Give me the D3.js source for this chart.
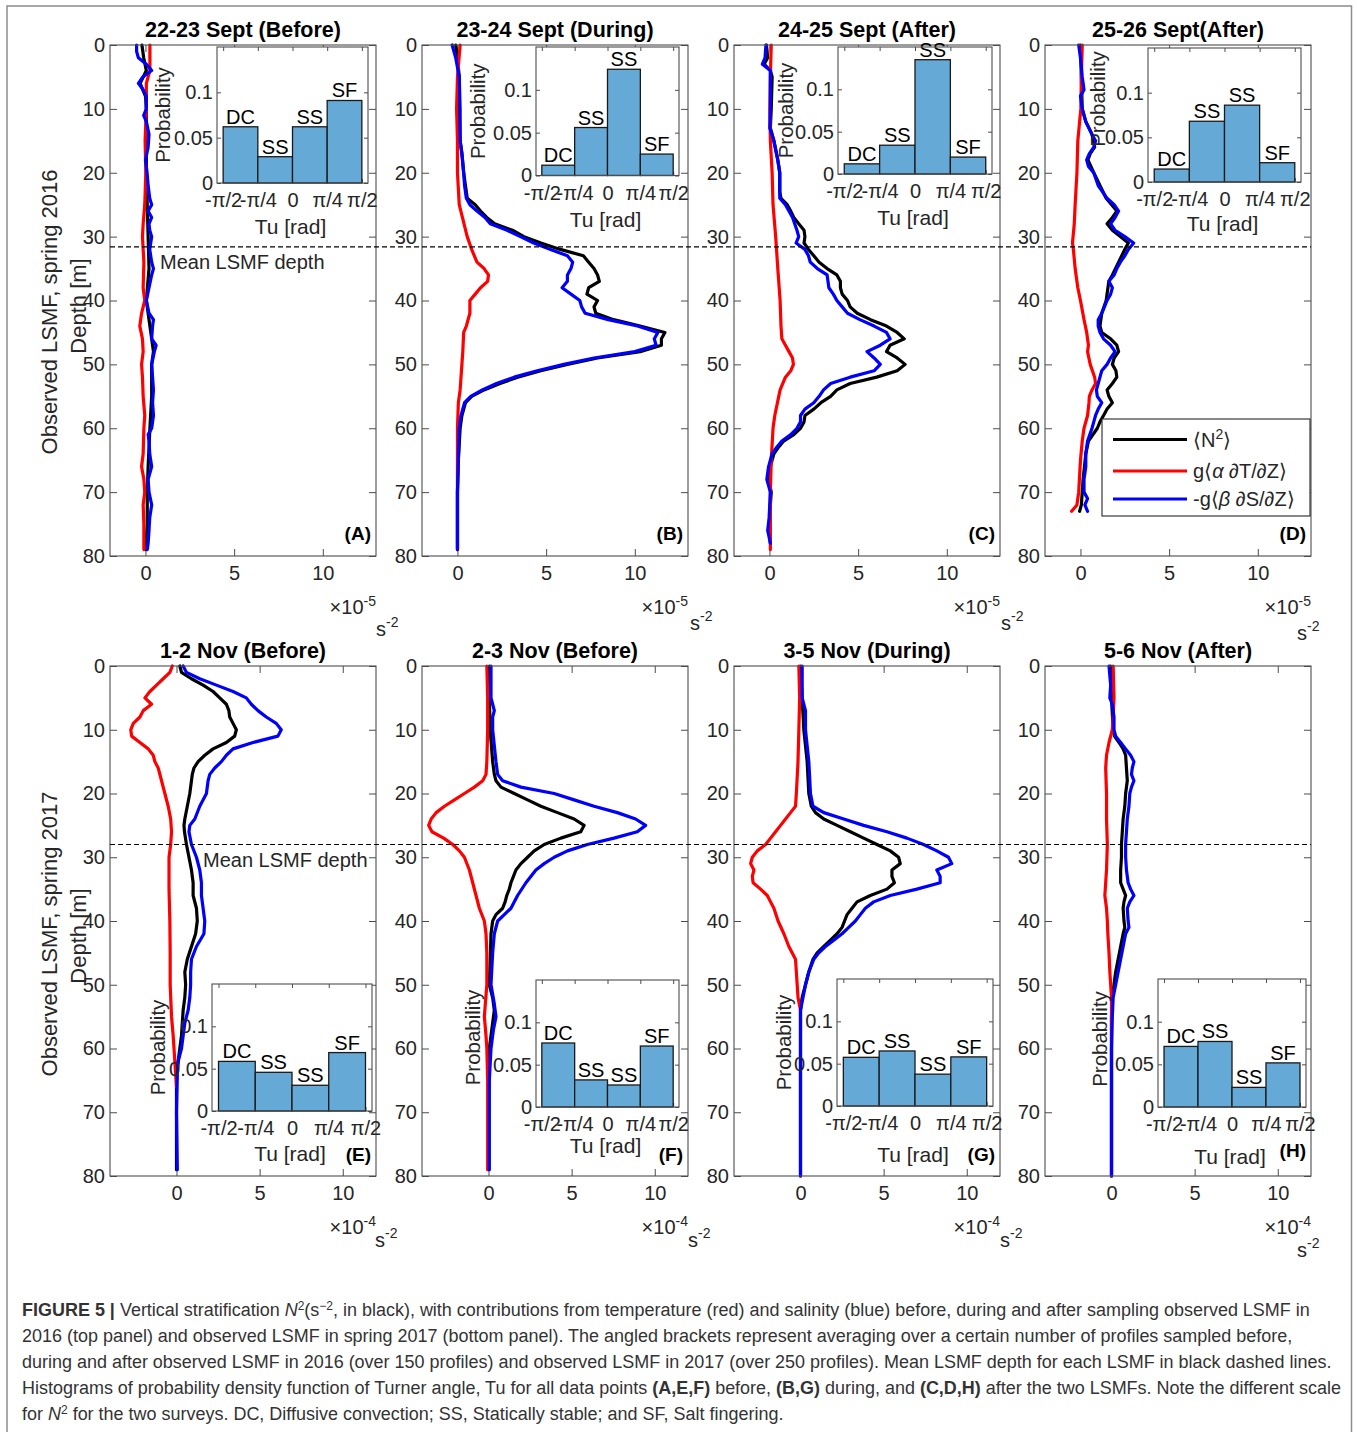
<!DOCTYPE html>
<html><head><meta charset="utf-8">
<script src="https://cdn.jsdelivr.net/npm/d3@7"></script>
<style>body{margin:0;background:#fff}svg text{font-family:"Liberation Sans",Arial,Helvetica,sans-serif}</style>
</head><body><svg id="c" width="1357" height="1432"></svg>
<script>
// ---------------- DATA ----------------
const panelTitles = ["22-23 Sept (Before)","23-24 Sept (During)","24-25 Sept (After)","25-26 Sept(After)",
                     "1-2 Nov (Before)","2-3 Nov (Before)","3-5 Nov (During)","5-6 Nov (After)"];
const panelLetters = ["(A)","(B)","(C)","(D)","(E)","(F)","(G)","(H)"];
const depthTicks = [0,10,20,30,40,50,60,70,80];
const n2Ticks = [0,5,10];
const probTicks = [0,0.05,0.1];
const tuEdges = [-Math.PI/2,-Math.PI/4,0,Math.PI/4,Math.PI/2];
const tuTickLabels = ["-\u03c0/2","-\u03c0/4","0","\u03c0/4","\u03c0/2"];
const tuClasses = ["DC","SS","SS","SF"];
const lsmfDepth = [31.6, 28];
const legendLabels = ["N2","T","S"];

// Histogram probabilities (DC, SS, SS, SF)
const histA = [0.062,0.029,0.062,0.091];
const histB = [0.012,0.056,0.124,0.025];
const histC = [0.012,0.034,0.135,0.020];
const histD = [0.0145,0.068,0.086,0.0216];
const histE = [0.0586,0.0457,0.0304,0.069];
const histF = [0.0756,0.032,0.026,0.072];
const histG = [0.0575,0.065,0.0376,0.058];
const histH = [0.071,0.0768,0.023,0.0517];

// Profiles: [depth m, value] ; top row in 1e-5 s^-2, bottom row in 1e-4 s^-2
const A_N2 = [[0,-0.2],[2,-0.1],[4,0.05],[6,-0.3],[8,0],[10,0.05],[15,0.05],[20,0.05],[25,0.1],[30,0.15],[35,0.2],[40,0.05],[44,0.25],[48,0.45],[50,0.35],[55,0.35],[60,0.25],[66,0.15],[70,0.1],[75,0.1],[79,0.02]];
const A_T = [[0,0.25],[4,0.25],[6,0.05],[10,0.05],[15,-0.02],[20,0.02],[25,-0.04],[28,-0.13],[30,-0.17],[34,-0.09],[38,-0.13],[40,-0.04],[42,-0.22],[44,-0.32],[46,-0.17],[48,-0.13],[50,-0.22],[52,-0.17],[55,-0.13],[58,-0.04],[60,-0.09],[64,-0.13],[66,-0.22],[68,-0.09],[70,-0.04],[72,-0.13],[75,-0.09],[79,-0.09]];
const A_S = [[0,-0.5],[1,-0.5],[2,-0.4],[3,0.05],[4,0.35],[5,-0.15],[6,-0.4],[7,-0.13],[8,0.05],[10,0.05],[11,-0.1],[12,0.05],[14,0.2],[16,0.15],[18,0],[19,0.05],[20,0.09],[22,0.15],[24,0.24],[25,0.35],[26,0.15],[27,0.35],[28,0.2],[29,0.24],[30,0.35],[32,0.24],[34,0.35],[35,0.45],[36,0.35],[38,0.2],[40,0.05],[42,0.2],[43,0.45],[44,0.4],[46,0.35],[47,0.6],[48,0.5],[50,0.35],[52,0.4],[54,0.45],[56,0.4],[58,0.45],[60,0.35],[61,0.15],[62,0.2],[64,0.24],[66,0.35],[68,0.15],[70,0.2],[72,0.35],[74,0.24],[76,0.2],[78,0.15],[79,0.1]];

const B_N2 = [[0,-0.1],[2,0],[5,0.1],[10,0.1],[15,0.15],[17,0.25],[20,0.35],[22,0.45],[24,0.55],[25,1.0],[26,1.3],[27,1.65],[28,2.1],[29,3.1],[30,3.75],[31,4.7],[32,5.8],[33,7.1],[34,7.4],[35,7.7],[36,7.9],[37,8.0],[38,7.4],[39,7.3],[40,7.9],[41,7.7],[42,7.8],[43,8.8],[44,10.3],[45,11.7],[46,11.5],[47,11.5],[48,10.3],[49,7.9],[50,6.2],[51,4.7],[52,3.4],[53,2.4],[54,1.5],[55,0.8],[56,0.45],[58,0.25],[60,0.15],[65,0.05],[70,0],[79,0]];
const B_T = [[0,0.15],[5,0],[10,-0.05],[15,0],[20,0],[25,0.1],[30,0.55],[32,0.8],[34,1.1],[35,1.5],[36,1.75],[37,1.7],[38,1.3],[39,1.0],[40,0.7],[42,0.7],[44,0.5],[45,0.35],[48,0.3],[50,0.25],[54,0.15],[56,0.05],[60,0],[70,0],[79,0]];
const B_S = [[0,-0.3],[2,-0.1],[5,0.1],[10,0.15],[15,0.15],[17,0.25],[20,0.35],[22,0.4],[24,0.5],[25,0.7],[26,1.1],[27,1.55],[28,1.85],[29,2.8],[30,3.55],[31,4.3],[32,5.25],[33,6.2],[34,6.5],[35,6.4],[36,6.2],[37,6.2],[38,5.9],[39,6.4],[40,6.9],[41,7.0],[42,7.2],[43,8.5],[44,10.15],[45,11.3],[46,11.1],[47,11.2],[48,10.0],[49,7.7],[50,6.0],[51,4.5],[52,3.2],[53,2.2],[54,1.4],[55,0.75],[56,0.4],[58,0.2],[60,0.1],[65,0.05],[70,0],[79,0]];

const C_N2 = [[0,-0.17],[2,-0.1],[3,-0.3],[4,0.05],[5,0.15],[10,0.1],[13,0.05],[15,0.25],[18,0.47],[20,0.58],[23,0.58],[24,0.65],[25,1.0],[26,1.2],[27,1.37],[28,1.65],[29,1.95],[30,2.0],[31,1.95],[32,2.2],[33,2.5],[34,2.8],[35,3.25],[36,3.8],[37,4.0],[38,4.0],[39,4.1],[40,4.4],[41,4.55],[42,4.95],[43,5.7],[44,6.6],[45,7.2],[46,7.6],[47,6.8],[48,6.6],[49,7.2],[50,7.65],[51,7.2],[52,6.05],[53,4.55],[54,3.8],[55,3.45],[56,2.9],[57,2.5],[58,2.0],[59,1.95],[60,1.75],[61,1.37],[62,0.8],[63,0.5],[64,0.25],[65,0.15],[66,0.05],[68,-0.05],[70,0.1],[72,0.05],[75,0.02],[78,0.05]];
const C_T = [[0,0.1],[5,0.05],[10,0.02],[15,0.05],[20,0.15],[25,0.2],[30,0.35],[35,0.47],[40,0.6],[44,0.65],[46,0.7],[47,0.9],[48,1.1],[49,1.3],[50,1.35],[51,1.2],[52,0.9],[54,0.6],[56,0.45],[58,0.3],[60,0.2],[65,0.1],[70,0.05],[79,0.05]];
const C_S = [[0,-0.2],[2,-0.25],[3,-0.4],[4,0.05],[10,0.05],[13,0.02],[15,0.25],[18,0.47],[20,0.58],[24,0.58],[25,0.9],[27,1.3],[29,1.55],[30,1.65],[31,1.5],[32,2.0],[33,2.2],[34,2.3],[35,2.7],[36,3.25],[37,3.3],[38,3.35],[39,3.6],[40,3.8],[41,4.1],[42,4.4],[43,5.1],[44,5.9],[45,6.6],[46,6.8],[47,6.25],[48,5.5],[49,5.9],[50,6.25],[51,5.9],[52,4.55],[53,3.45],[54,3.05],[55,2.8],[56,2.5],[57,2.0],[58,1.75],[59,1.75],[60,1.55],[61,1.2],[62,0.7],[63,0.4],[64,0.15],[66,-0.05],[68,-0.15],[70,0.05],[74,-0.02],[76,-0.1],[78,0.05]];

const D_N2 = [[0,0],[5,0.05],[10,0.1],[12,0.3],[14,0.65],[16,0.8],[17,0.55],[18,0.42],[20,0.75],[24,1.45],[26,2.05],[27,1.8],[28,1.5],[29,1.8],[30,2.25],[31,2.7],[32,2.5],[34,2.15],[36,1.8],[37,1.6],[40,1.45],[42,1.2],[44,1.1],[45,1.2],[46,1.7],[47,2.05],[48,2.15],[49,1.9],[50,1.8],[51,2.0],[52,2.05],[53,1.8],[54,1.5],[55,1.6],[56,1.8],[57,1.5],[58,1.3],[59,1.1],[60,0.95],[62,0.45],[64,0.3],[68,0.15],[70,0.1],[72,0.05],[73,-0.05]];
const D_T = [[0,0.1],[5,0.05],[10,0.02],[15,-0.15],[20,-0.2],[25,-0.3],[28,-0.35],[31,-0.45],[32,-0.4],[35,-0.3],[38,-0.15],[40,0],[43,0.2],[45,0.35],[47,0.45],[48,0.4],[50,0.55],[52,0.8],[53,0.85],[54,0.65],[55,0.5],[56,0.48],[58,0.4],[60,0.2],[62,0.1],[65,0],[70,-0.1],[72,-0.2],[73,-0.5]];
const D_S = [[0,-0.1],[2,0],[5,0.1],[7,0.2],[8,0],[10,0.1],[12,0.3],[14,0.65],[15,0.85],[16,0.75],[17,0.5],[18,0.35],[19,0.45],[20,0.75],[22,1.0],[24,1.5],[25,1.9],[26,2.15],[27,1.95],[28,1.7],[29,1.95],[30,2.5],[31,3.0],[32,2.7],[33,2.5],[34,2.25],[35,2.05],[36,1.9],[37,1.6],[38,1.8],[39,1.7],[40,1.5],[42,1.2],[43,1.0],[44,1.0],[45,1.1],[46,1.3],[47,1.7],[48,1.95],[49,1.7],[50,1.5],[51,1.2],[52,1.1],[53,1.0],[54,0.9],[55,0.95],[56,1.2],[57,1.0],[58,0.85],[59,0.75],[60,0.65],[62,0.4],[64,0.3],[66,0.3],[68,0.2],[70,0.2],[71,0.4],[72,0.25],[73,0.4]];

const E_N2 = [[0,0.2],[1,0.3],[2,0.9],[3,1.6],[4,2.2],[5,2.6],[6,3.0],[7,3.15],[8,3.2],[9,3.4],[10,3.6],[11,3.5],[12,3.0],[13,2.2],[14,1.7],[15,1.3],[16,1.05],[17,0.95],[18,0.9],[20,0.8],[22,0.65],[24,0.5],[25,0.45],[26,0.48],[28,0.6],[30,0.75],[32,0.9],[34,1.0],[36,1.0],[38,1.2],[40,1.25],[42,1.15],[44,0.9],[46,0.65],[48,0.5],[50,0.55],[52,0.5],[54,0.4],[56,0.35],[58,0.3],[60,0.2],[62,0.1],[64,0],[70,0],[79,0]];
const E_T = [[0,-0.25],[1,-0.4],[2,-0.8],[3,-1.2],[4,-1.6],[5,-1.9],[6,-1.5],[7,-2.0],[8,-2.2],[9,-2.6],[10,-2.75],[11,-2.7],[12,-2.2],[13,-1.7],[14,-1.4],[15,-1.3],[16,-1.1],[18,-0.9],[20,-0.7],[22,-0.5],[24,-0.35],[26,-0.3],[28,-0.35],[30,-0.45],[35,-0.45],[40,-0.4],[45,-0.38],[50,-0.38],[55,-0.3],[58,-0.2],[60,-0.15],[62,-0.1],[64,-0.05],[66,0]];
const E_S = [[0,0.4],[1,0.6],[2,1.4],[3,2.4],[4,3.4],[5,4.2],[6,4.5],[7,4.9],[8,5.4],[9,6.0],[10,6.3],[11,6.1],[12,4.6],[13,3.4],[14,3.0],[15,2.7],[16,2.3],[17,2.0],[18,1.9],[20,1.8],[22,1.4],[24,1.1],[25,0.8],[26,0.75],[28,0.9],[30,1.2],[32,1.4],[34,1.5],[36,1.5],[38,1.6],[40,1.7],[42,1.65],[44,1.2],[46,0.9],[48,0.85],[50,0.85],[52,0.8],[54,0.7],[56,0.5],[58,0.4],[60,0.3],[62,0.1],[64,0.05],[70,0],[79,0.05]];

const F_N2 = [[0,0.05],[5,0.05],[10,0.1],[15,0.25],[17,0.35],[18,0.45],[19,0.75],[20,1.55],[21,2.35],[22,3.15],[23,4.15],[24,5.15],[25,5.75],[26,5.55],[27,4.35],[28,3.35],[29,2.75],[30,2.35],[31,1.95],[32,1.65],[33,1.5],[34,1.35],[35,1.25],[36,1.1],[37,1.0],[38,0.85],[39,0.45],[40,0.25],[42,0.15],[45,0.12],[50,0.05],[52,0.25],[54,0.35],[56,0.25],[58,0.15],[60,0.05],[65,0.02],[70,0],[79,0]];
const F_T = [[0,-0.1],[5,-0.05],[10,-0.05],[15,-0.1],[17,-0.15],[18,-0.35],[19,-0.85],[20,-1.45],[21,-2.05],[22,-2.65],[23,-3.15],[24,-3.45],[25,-3.6],[26,-3.4],[27,-2.7],[28,-2.15],[29,-1.75],[30,-1.45],[32,-1.15],[34,-0.95],[36,-0.75],[38,-0.55],[40,-0.25],[42,-0.15],[45,-0.1],[50,-0.1],[55,-0.25],[58,-0.15],[60,-0.1],[65,-0.05],[70,-0.05],[79,-0.05]];
const F_S = [[0,0.15],[5,0.15],[6,0.25],[7,0.35],[8,0.25],[10,0.25],[15,0.45],[17,0.55],[18,0.85],[19,1.95],[20,3.95],[21,5.15],[22,6.35],[23,7.75],[24,8.85],[25,9.45],[26,8.95],[27,7.55],[28,5.95],[29,4.75],[30,3.95],[31,3.35],[32,2.85],[34,2.25],[36,1.75],[38,1.35],[39,0.95],[40,0.55],[42,0.35],[45,0.25],[50,0.15],[53,0.35],[55,0.45],[57,0.3],[60,0.15],[65,0.05],[70,0.05],[79,0.05]];

const G_N2 = [[0,0],[5,0.1],[10,0.2],[15,0.4],[20,0.5],[22,0.65],[23,0.9],[24,1.4],[25,2.2],[26,3.0],[27,3.8],[28,4.6],[29,5.4],[30,5.9],[31,6.0],[32,5.5],[33,5.5],[34,5.65],[35,5.2],[36,4.2],[37,3.4],[38,3.1],[39,2.8],[40,2.65],[41,2.5],[42,2.2],[43,1.8],[44,1.4],[45,1.0],[46,0.75],[48,0.5],[50,0.3],[52,0.1],[54,0],[60,0],[80,0]];
const G_T = [[0,-0.1],[5,-0.05],[10,-0.1],[15,-0.15],[20,-0.25],[22,-0.3],[23,-0.6],[24,-0.9],[25,-1.2],[26,-1.5],[27,-1.8],[28,-2.1],[29,-2.6],[30,-2.9],[31,-3.0],[32,-2.8],[33,-2.9],[34,-2.85],[35,-2.4],[36,-2.0],[37,-1.8],[38,-1.6],[40,-1.35],[42,-1.0],[44,-0.7],[46,-0.3],[48,-0.25],[50,-0.2],[52,-0.15],[54,0]];
const G_S = [[0,0.1],[5,0.1],[7,0.3],[10,0.3],[15,0.5],[20,0.6],[22,0.75],[23,1.4],[24,2.6],[25,3.8],[26,5.2],[27,6.4],[28,7.4],[29,8.2],[30,8.9],[31,9.1],[32,8.2],[33,8.4],[34,8.4],[35,7.0],[36,5.4],[37,4.4],[38,3.9],[39,3.6],[40,3.3],[41,2.9],[42,2.5],[43,2.0],[44,1.5],[45,1.1],[46,0.8],[48,0.5],[50,0.3],[52,0.15],[54,0],[80,0]];

const H_N2 = [[0,-0.05],[5,0],[10,0.1],[11,0.18],[12,0.45],[13,0.7],[14,0.85],[16,0.9],[18,0.95],[20,0.85],[22,0.8],[24,0.7],[26,0.65],[28,0.6],[30,0.6],[32,0.55],[34,0.55],[35,0.7],[36,0.85],[37,0.75],[38,0.7],[40,0.75],[41,0.8],[42,0.7],[44,0.55],[46,0.4],[48,0.25],[50,0.15],[52,0.05],[55,0],[80,0]];
const H_T = [[0,0.1],[5,0.15],[8,0.1],[10,0.05],[12,-0.15],[14,-0.3],[16,-0.35],[20,-0.3],[24,-0.3],[28,-0.25],[32,-0.3],[34,-0.35],[36,-0.4],[38,-0.3],[40,-0.25],[42,-0.22],[45,-0.15],[48,-0.1],[50,-0.05],[52,0],[55,0],[80,0]];
const H_S = [[0,-0.15],[3,-0.05],[5,-0.1],[6,0.05],[8,0.15],[10,0.15],[11,0.25],[12,0.55],[13,0.85],[14,1.15],[15,1.35],[16,1.25],[17,1.2],[18,1.35],[19,1.2],[20,1.1],[22,1.05],[24,0.95],[26,0.9],[28,0.85],[30,0.85],[32,0.9],[34,1.0],[35,1.15],[36,1.35],[37,1.1],[38,0.95],[40,1.0],[41,1.05],[42,0.85],[44,0.7],[46,0.55],[48,0.4],[50,0.25],[52,0.1],[55,0.05],[60,0],[80,0]];

// ---------------- LAYOUT ----------------
const svg = d3.select("#c");
const TXT = "#262626", AX = "#4d4d4d";
const seriesColor = {N2:"#000000", T:"#ff0000", S:"#0000ff"};
const rows = [
  {top:45, h:511, dom:[-2,13], exp:"-5", expY:614, letterY:540},
  {top:666, h:510, dom:[-4,12], exp:"-4", expY:1234, letterY:1161}
];
const lefts = [110,422,734,1045], PW = 266;
const panels = [
  {r:0,c:0,N2:A_N2,T:A_T,S:A_S,hist:histA,inset:[217,47,151,136],pOff:55,pDy:0,tuOff:51,sX:376,sY:636},
  {r:0,c:1,N2:B_N2,T:B_T,S:B_S,hist:histB,inset:[536,47,143,128.5],pOff:59,pDy:0,tuOff:51,sX:690,sY:630},
  {r:0,c:2,N2:C_N2,T:C_T,S:C_S,hist:histC,inset:[838,47,154,127],pOff:53,pDy:0,tuOff:51,sX:1001,sY:630},
  {r:0,c:3,N2:D_N2,T:D_T,S:D_S,hist:histD,inset:[1148,48,153,134],pOff:51,pDy:-16,tuOff:49,sX:1297,sY:640},
  {r:1,c:0,N2:E_N2,T:E_T,S:E_S,hist:histE,inset:[212,984,160,127],pOff:55,pDy:0,tuOff:50,sX:375,sY:1247},
  {r:1,c:1,N2:F_N2,T:F_T,S:F_S,hist:histF,inset:[536,980,143,127],pOff:64,pDy:-6,tuOff:46,sX:688,sY:1247},
  {r:1,c:2,N2:G_N2,T:G_T,S:G_S,hist:histG,inset:[837,979,156,127],pOff:54,pDy:0,tuOff:56,sX:1000,sY:1247},
  {r:1,c:3,N2:H_N2,T:H_T,S:H_S,hist:histH,inset:[1158,979,148,128],pOff:59,pDy:-4,tuOff:57,sX:1297,sY:1257}
];

// outer frame
svg.append("rect").attr("x",7).attr("y",6).attr("width",1344.5).attr("height",1450)
  .attr("fill","none").attr("stroke","#8c8c8c").attr("stroke-width",1.5);

function styleAxis(g, fs){
  g.select(".domain").remove();
  g.selectAll(".tick line").attr("stroke",AX).attr("stroke-width",1);
  g.selectAll(".tick text").attr("fill",TXT).attr("font-size",fs)
    .attr("font-family",'"Liberation Sans",Arial,sans-serif');
  g.attr("font-family",null).attr("font-size",null);
  return g;
}
function rich(sel, parts){
  let shift = 0;
  parts.forEach(p=>{
    const t = p[0], o = p[1] || {};
    const ts = sel.append("tspan").text(t);
    if(o.b) ts.attr("font-weight","bold");
    if(o.i) ts.attr("font-style","italic");
    if(o.fs) ts.attr("font-size",o.fs);
    const target = o.sup ? -o.sup : 0;
    if(target !== shift) ts.attr("dy", target - shift);
    shift = target;
  });
  return sel;
}

const line = (x,y)=>d3.line().x(d=>x(d[1])).y(d=>y(d[0])).curve(d3.curveLinear);

panels.forEach((p,i)=>{
  const row = rows[p.r], L = lefts[p.c], R = L + PW, T = row.top, B = row.top + row.h;
  const x = d3.scaleLinear().domain(row.dom).range([L,R]);
  const y = d3.scaleLinear().domain([0,80]).range([T,B]);
  const g = svg.append("g");

  styleAxis(g.append("g").attr("transform",`translate(${L},0)`)
    .call(d3.axisLeft(y).tickValues(depthTicks).tickSize(-7).tickPadding(5)), 20);
  styleAxis(g.append("g").attr("transform",`translate(${R},0)`)
    .call(d3.axisRight(y).tickValues(depthTicks).tickSize(-7).tickFormat("")), 20);
  styleAxis(g.append("g").attr("transform",`translate(0,${B})`)
    .call(d3.axisBottom(x).tickValues(n2Ticks).tickSize(-7).tickPadding(10)), 20);
  styleAxis(g.append("g").attr("transform",`translate(0,${T})`)
    .call(d3.axisTop(x).tickValues(n2Ticks).tickSize(-7).tickFormat("")), 20);

  ["N2","T","S"].forEach(k=>{
    g.append("path").datum(p[k]).attr("d", line(x,y))
      .attr("fill","none").attr("stroke",seriesColor[k]).attr("stroke-width",3.2)
      .attr("stroke-linejoin","round").attr("stroke-linecap","round");
  });

  g.append("rect").attr("x",L).attr("y",T).attr("width",PW).attr("height",row.h)
    .attr("fill","none").attr("stroke",AX).attr("stroke-width",1.1);

  g.append("text").attr("x",(L+R)/2).attr("y",T-8).attr("text-anchor","middle")
    .attr("font-size",21.5).attr("font-weight","bold").attr("fill","#000").text(panelTitles[i]);

  rich(g.append("text").attr("x",R).attr("y",row.expY).attr("text-anchor","end")
    .attr("font-size",20).attr("fill",TXT), [["\u00d710"],[row.exp,{sup:8,fs:14}]]);
  rich(g.append("text").attr("x",p.sX).attr("y",p.sY).attr("font-size",20).attr("fill",TXT),
    [["s"],["-2",{sup:9,fs:14}]]);
});

// dashed mean LSMF depth lines
rows.forEach((row,ri)=>{
  const y = d3.scaleLinear().domain([0,80]).range([row.top,row.top+row.h]);
  svg.append("line").attr("x1",lefts[0]).attr("x2",lefts[3]+PW)
    .attr("y1",y(lsmfDepth[ri])).attr("y2",y(lsmfDepth[ri]))
    .attr("stroke","#000").attr("stroke-width",1.2).attr("stroke-dasharray","5,3");
  svg.append("text").attr("x", ri===0?160:203).attr("y", y(lsmfDepth[ri])+22)
    .attr("font-size",20).attr("fill",TXT).text("Mean LSMF depth");
});

// insets
panels.forEach((p,i)=>{
  const [iL,iT,iW,iH] = p.inset;
  const g = svg.append("g");
  const x = d3.scaleLinear().domain([-1.71,1.71]).range([iL,iL+iW]);
  const y = d3.scaleLinear().domain([0,0.15]).range([iT+iH,iT]);
  g.append("rect").attr("x",iL).attr("y",iT).attr("width",iW).attr("height",iH).attr("fill","#fff");
  styleAxis(g.append("g").attr("transform",`translate(${iL},0)`)
    .call(d3.axisLeft(y).tickValues(probTicks).tickSize(-4).tickPadding(4).tickFormat(d=>d===0?"0":String(d))), 20);
  styleAxis(g.append("g").attr("transform",`translate(${iL+iW},0)`)
    .call(d3.axisRight(y).tickValues(probTicks).tickSize(-4).tickFormat("")), 20);
  styleAxis(g.append("g").attr("transform",`translate(0,${iT+iH})`)
    .call(d3.axisBottom(x).tickValues(tuEdges).tickSize(-4).tickPadding(10).tickFormat((d,k)=>tuTickLabels[k])), 20);
  styleAxis(g.append("g").attr("transform",`translate(0,${iT})`)
    .call(d3.axisTop(x).tickValues(tuEdges).tickSize(-4).tickFormat("")), 20);

  g.selectAll("rect.bar").data(p.hist).join("rect").attr("class","bar")
    .attr("x",(d,k)=>x(tuEdges[k])).attr("width",(d,k)=>x(tuEdges[k+1])-x(tuEdges[k]))
    .attr("y",d=>y(d)).attr("height",d=>y(0)-y(d))
    .attr("fill","#65a9d7").attr("stroke","#1a1a1a").attr("stroke-width",1.3);
  g.selectAll("text.cls").data(p.hist).join("text").attr("class","cls")
    .attr("x",(d,k)=>(x(tuEdges[k])+x(tuEdges[k+1]))/2).attr("y",d=>y(d)-3)
    .attr("text-anchor","middle").attr("font-size",20).attr("fill","#000")
    .text((d,k)=>tuClasses[k]);
  g.append("rect").attr("x",iL).attr("y",iT).attr("width",iW).attr("height",iH)
    .attr("fill","none").attr("stroke",AX).attr("stroke-width",1.1);

  g.append("text").attr("transform",`translate(${iL-p.pOff},${iT+iH/2+p.pDy}) rotate(-90)`)
    .attr("text-anchor","middle").attr("dominant-baseline","central")
    .attr("font-size",20.5).attr("fill",TXT).text("Probability");
  g.append("text").attr("x",iL+iW/2-2).attr("y",iT+iH+p.tuOff).attr("text-anchor","middle")
    .attr("font-size",21).attr("fill",TXT).text("Tu [rad]");
});

// panel letters
panels.forEach((p,i)=>{
  const row = rows[p.r], R = lefts[p.c]+PW;
  svg.append("text").attr("x",R-5).attr("y",row.letterY - (i===7?4:0)).attr("text-anchor","end")
    .attr("font-size",19).attr("font-weight","bold").attr("fill","#000").text(panelLetters[i]);
});

// legend in panel D
{
  const lx = 1102, ly = 419, lw = 208, lh = 97;
  const lg = svg.append("g");
  lg.append("rect").attr("x",lx).attr("y",ly).attr("width",lw).attr("height",lh)
    .attr("fill","#fff").attr("stroke","#262626").attr("stroke-width",1.1);
  const rowsY = [439.5,471,499];
  const labels = [
    [["\u27e8N"],["2",{sup:8,fs:14}],["\u27e9"]],
    [["g\u27e8"],["\u03b1",{i:true}],[" \u2202T/\u2202Z\u27e9"]],
    [["-g\u27e8"],["\u03b2",{i:true}],[" \u2202S/\u2202Z\u27e9"]]
  ];
  legendLabels.forEach((k,j)=>{
    lg.append("line").attr("x1",1113).attr("x2",1187).attr("y1",rowsY[j]).attr("y2",rowsY[j])
      .attr("stroke",seriesColor[k]).attr("stroke-width",3.2);
    rich(lg.append("text").attr("x",1193).attr("y",rowsY[j]+7).attr("font-size",20).attr("fill",TXT), labels[j]);
  });
}

// y-axis labels
[[312,"Observed LSMF, spring 2016",306],[934,"Observed LSMF, spring 2017",936]].forEach(([cy,t,dy])=>{
  svg.append("text").attr("transform",`translate(49,${cy}) rotate(-90)`).attr("text-anchor","middle")
    .attr("dominant-baseline","central").attr("font-size",22).attr("fill",TXT).text(t);
  svg.append("text").attr("transform",`translate(78,${dy}) rotate(-90)`).attr("text-anchor","middle")
    .attr("dominant-baseline","central").attr("font-size",22).attr("fill",TXT).text("Depth [m]");
});

// caption
const captionLines = [
  [["FIGURE 5 | ",{b:true}],["Vertical stratification "],["N",{i:true}],["2",{sup:6,fs:12}],["(s"],["\u22122",{sup:6,fs:12}],[", in black), with contributions from temperature (red) and salinity (blue) before, during and after sampling observed LSMF in"]],
  [["2016 (top panel) and observed LSMF in spring 2017 (bottom panel). The angled brackets represent averaging over a certain number of profiles sampled before,"]],
  [["during and after observed LSMF in 2016 (over 150 profiles) and observed LSMF in 2017 (over 250 profiles). Mean LSMF depth for each LSMF in black dashed lines."]],
  [["Histograms of probability density function of Turner angle, Tu for all data points "],["(A,E,F)",{b:true}],[" before, "],["(B,G)",{b:true}],[" during, and "],["(C,D,H)",{b:true}],[" after the two LSMFs. Note the different scale"]],
  [["for "],["N",{i:true}],["2",{sup:6,fs:12}],[" for the two surveys. DC, Diffusive convection; SS, Statically stable; and SF, Salt fingering."]]
];
const capY = [1316,1342,1368,1394,1420];
function buildCaption(fs){
  svg.selectAll("g.caption").remove();
  const cg = svg.append("g").attr("class","caption");
  return captionLines.map((parts,j)=>rich(cg.append("text").attr("x",22).attr("y",capY[j])
      .attr("font-size",fs).attr("fill","#333"), parts));
}
let texts = buildCaption(17);
const w4 = texts[3].node().getComputedTextLength();
if (w4 > 0) { texts = buildCaption(17 * 1320 / w4); }
</script></body></html>
